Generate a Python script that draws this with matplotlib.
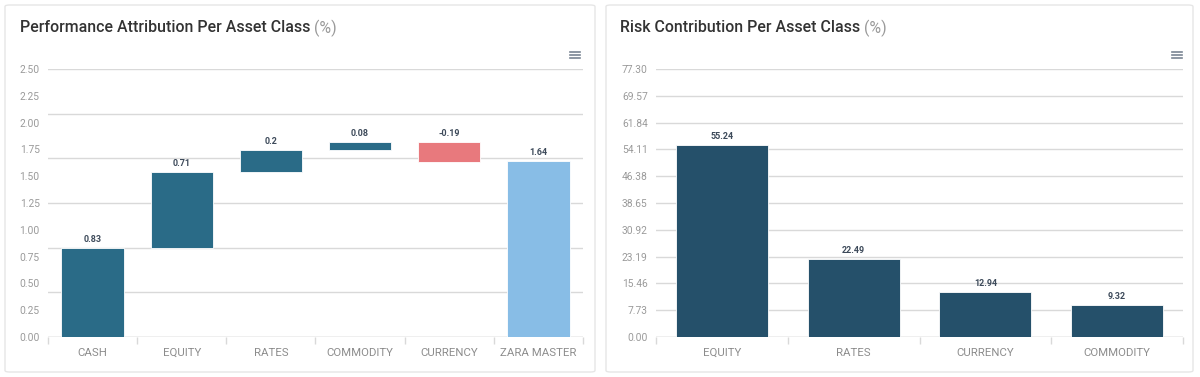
import numpy as np
import matplotlib.pyplot as plt
from matplotlib.patches import FancyBboxPatch
from matplotlib.lines import Line2D

# data
perf_cats = ["CASH", "EQUITY", "RATES", "COMMODITY", "CURRENCY", "ZARA MASTER"]
perf_deltas = [0.83, 0.71, 0.2, 0.08, -0.19]
perf_total = 1.64
perf_yticks = [0.00, 0.25, 0.50, 0.75, 1.00, 1.25, 1.50, 1.75, 2.00, 2.25, 2.50]

risk_cats = ["EQUITY", "RATES", "CURRENCY", "COMMODITY"]
risk_vals = [55.24, 22.49, 12.94, 9.32]
risk_yticks = [0.00, 7.73, 15.46, 23.19, 30.92, 38.65, 46.38, 54.11, 61.84, 69.57, 77.30]

TEAL = "#2a6b87"
RED = "#e8797d"
LIGHT = "#88bde6"
NAVY = "#25506a"
GRID = "#d9d9d9"
TICK = "#9a9a9a"

plt.rcParams['font.family'] = ['Roboto', 'DejaVu Sans']

W, H = 1200, 377
fig = plt.figure(figsize=(W / 100, H / 100), dpi=100)
fig.patch.set_facecolor("white")


def fx(px):
    return px / W


def fy(py):
    return 1 - py / H


# cards
for x0, x1 in [(5, 595), (606, 1193)]:
    card = FancyBboxPatch((fx(x0), fy(372)), fx(x1 - x0), (372 - 5) / H,
                          boxstyle="round,pad=0,rounding_size=0.004",
                          transform=fig.transFigure, facecolor="white",
                          edgecolor="#e6e6e6", linewidth=1.0, zorder=-5)
    fig.patches.append(card)


def title(x, text):
    t = fig.text(fx(x), fy(28), text, fontsize=11.4, fontweight="medium",
                 color="#333333", va="center", ha="left")
    fig.canvas.draw()
    bb = t.get_window_extent()
    fig.text(bb.x1 / W + 0.003, fy(28), "(%)", fontsize=11.4, color="#9a9a9a",
             va="center", ha="left")


def burger(x):
    for dy in (-3, 0, 3):
        fig.add_artist(Line2D([fx(x - 5), fx(x + 5)], [fy(55 + dy), fy(55 + dy)],
                              transform=fig.transFigure, color="#7a8594", lw=1.2))


def style_axis(ax, n, yticks, ymax, grid_vals, fmt):
    ax.set_facecolor("none")
    ax.set_xlim(-0.5, n - 0.5)
    ax.set_ylim(0, ymax)
    for g in grid_vals:
        ax.axhline(g, color=GRID, lw=1.0, zorder=0)
    for s in ax.spines.values():
        s.set_visible(False)
    ax.set_yticks(yticks)
    ax.set_yticklabels([fmt.format(v) for v in yticks])
    ax.tick_params(axis="y", length=0, labelsize=7.4, labelcolor=TICK, pad=6)
    ax.set_xticks(range(n))
    ax.tick_params(axis="x", length=0, labelsize=8.2, labelcolor="#8c8c8c", pad=8)
    ax.set_xticks(np.arange(-0.5, n, 1.0), minor=True)
    ax.tick_params(axis="x", which="minor", length=5, color=GRID, width=1)
    ax.axhline(0, color="#cfcfcf", lw=1.0, zorder=1)


def value_label(ax, x, y, text):
    ax.annotate(text, (x, y), xytext=(0, 3), textcoords="offset points",
                ha="center", va="bottom", fontsize=6.5, fontweight="bold",
                color="#3d4a5a")


# left chart: waterfall
ax1 = fig.add_axes([fx(48), fy(337), fx(583 - 48), (337 - 69) / H])
n1 = len(perf_cats)
style_axis(ax1, n1, perf_yticks, 2.5, np.linspace(0, 2.5, 7), "{:.2f}")
ax1.set_xticklabels(perf_cats)

cum = 0.0
for i, d in enumerate(perf_deltas):
    lo, hi = min(cum, cum + d), max(cum, cum + d)
    color = RED if d < 0 else TEAL
    ax1.bar(i, hi - lo, bottom=lo, width=0.7, color=color, edgecolor="white",
            linewidth=0.6, zorder=2)
    value_label(ax1, i, hi, f"{d:g}")
    cum += d
ax1.bar(n1 - 1, perf_total, width=0.7, color=LIGHT, edgecolor="white",
        linewidth=0.6, zorder=2)
value_label(ax1, n1 - 1, perf_total, f"{perf_total:g}")

# right chart
ax2 = fig.add_axes([fx(656), fy(337), fx(1183 - 656), (337 - 69) / H])
n2 = len(risk_cats)
style_axis(ax2, n2, risk_yticks, risk_yticks[-1], risk_yticks, "{:.2f}")
ax2.set_xticklabels(risk_cats)
ax2.bar(range(n2), risk_vals, width=0.7, color=NAVY, edgecolor="white",
        linewidth=0.6, zorder=2)
for i, v in enumerate(risk_vals):
    value_label(ax2, i, v, f"{v:.2f}")

title(20, "Performance Attribution Per Asset Class")
title(620, "Risk Contribution Per Asset Class")
burger(575)
burger(1177)

fig.savefig("out.png", dpi=100)
